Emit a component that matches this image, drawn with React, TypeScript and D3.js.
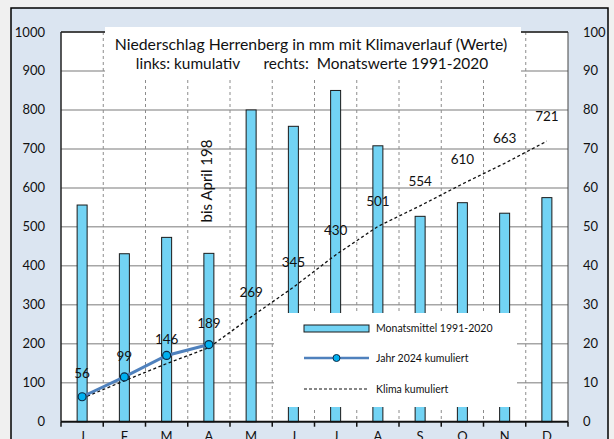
import React from "react";
import * as d3 from "d3";

const months = ["J", "F", "M", "A", "M", "J", "J", "A", "S", "O", "N", "D"];
const monthlyMean = [55.6, 43.1, 47.3, 43.2, 80.0, 75.8, 85.0, 70.8, 52.7, 56.2, 53.5, 57.5];
const climateCum = [60, 105, 149, 190, 269, 345, 428, 501, 554, 610, 663, 720];
const climateLabels = ["56", "99", "146", "189", "269", "345", "430", "501", "554", "610", "663", "721"];
const year2024Cum = [64, 115, 170, 198];
const leftTicks = [0, 100, 200, 300, 400, 500, 600, 700, 800, 900, 1000];
const rightTicks = [0, 10, 20, 30, 40, 50, 60, 70, 80, 90, 100];

const FONT = "Lato, 'Open Sans', sans-serif";

export default function App() {
  const W = 614, H = 439;
  const x0 = 61, x1 = 568, yTop = 32, yBot = 421.7;
  const keys = months.map((_, i) => i);
  const x = d3.scaleBand<number>().domain(keys).range([x0, x1]).paddingInner(0).paddingOuter(0);
  const y = d3.scaleLinear().domain([0, 1000]).range([yBot, yTop]);
  const yR = d3.scaleLinear().domain([0, 100]).range([yBot, yTop]);
  const cx = (i: number) => (x(i) as number) + x.bandwidth() / 2;
  const barW = 10;
  const line = d3.line<number>().x((_, i) => cx(i)).y((d) => y(d));
  const boundaries = d3.range(0, 13).map((k) => x0 + k * x.bandwidth());

  return (
    <svg width={W} height={H} style={{ position: "absolute", left: 0, top: 0, background: "#f0f0f0" }}>
      <rect x={11} y={8} width={597} height={450} fill="#dbe5f1" stroke="#000" strokeWidth={1.5} />
      <rect x={x0} y={yTop} width={x1 - x0} height={yBot - yTop} fill="#fff" />
      {leftTicks.slice(1).map((t) => (
        <line key={"g" + t} x1={x0} x2={x1} y1={y(t)} y2={y(t)} stroke="#a6a6a6" strokeWidth={1.5} />
      ))}
      {boundaries.slice(1, 12).map((b, i) => (
        <line key={"v" + i} x1={b} x2={b} y1={yTop} y2={yBot} stroke="#8c8c8c" strokeWidth={1} strokeDasharray="3,3" />
      ))}
      {monthlyMean.map((v, i) => (
        <rect key={"b" + i} x={cx(i) - barW / 2} y={yR(v)} width={barW} height={yBot - yR(v)} fill="#72d3f4" stroke="#1a1a1a" strokeWidth={1} />
      ))}
      <line x1={x0} x2={x0} y1={yTop} y2={yBot} stroke="#222" strokeWidth={1.5} />
      <line x1={x1} x2={x1} y1={yTop} y2={yBot} stroke="#444" strokeWidth={1} />
      <line x1={x0} x2={x1} y1={yTop} y2={yTop} stroke="#222" strokeWidth={1.5} />
      <line x1={x0} x2={x1} y1={yBot} y2={yBot} stroke="#111" strokeWidth={2} />
      {boundaries.map((b, i) => (
        <line key={"t" + i} x1={b} x2={b} y1={yBot} y2={yBot + 5} stroke="#111" strokeWidth={1.5} />
      ))}
      {/* title box */}
      <rect x={105} y={27} width={416} height={52} fill="#fff" />
      <text x={311} y={50} textAnchor="middle" fontFamily={FONT} fontSize={15.8} fill="#111">
        Niederschlag Herrenberg in mm mit Klimaverlauf (Werte)
      </text>
      <text x={312} y={69} textAnchor="middle" fontFamily={FONT} fontSize={15.4} fill="#111" style={{ whiteSpace: "pre" }}>
        {"links: kumulativ      rechts:  Monatswerte 1991-2020"}
      </text>
      {/* climate cumulative */}
      <path d={line(climateCum) || ""} fill="none" stroke="#111" strokeWidth={1.3} strokeDasharray="3,2.5" />
      {/* 2024 */}
      <path d={line(year2024Cum) || ""} fill="none" stroke="#4f81bd" strokeWidth={3} />
      {year2024Cum.map((v, i) => (
        <circle key={"c" + i} cx={cx(i)} cy={y(v)} r={4} fill="#00b0f0" stroke="#0d2b45" strokeWidth={1.2} />
      ))}
      {climateCum.map((v, i) => (
        <text key={"l" + i} x={cx(i)} y={y(v) - 20} textAnchor="middle" fontFamily={FONT} fontSize={13.5} fill="#111">
          {climateLabels[i]}
        </text>
      ))}
      <text transform={`translate(212,181) rotate(-90)`} textAnchor="middle" fontFamily={FONT} fontSize={15} fill="#111">
        bis April 198
      </text>
      {/* legend */}
      <rect x={274} y={313} width={243} height={94} fill="#fff" />
      <rect x={304} y={325} width={65} height={7} fill="#72d3f4" stroke="#1a1a1a" strokeWidth={1} />
      <text x={376} y={332} fontFamily={FONT} fontSize={10.5} fill="#111">Monatsmittel 1991-2020</text>
      <line x1={304} x2={369} y1={358} y2={358} stroke="#4f81bd" strokeWidth={2.5} />
      <circle cx={336.5} cy={358} r={3.5} fill="#00b0f0" stroke="#0d2b45" strokeWidth={1} />
      <text x={376} y={362} fontFamily={FONT} fontSize={10.5} fill="#111">Jahr 2024 kumuliert</text>
      <line x1={304} x2={369} y1={389} y2={389} stroke="#111" strokeWidth={1.2} strokeDasharray="3,2" />
      <text x={376} y={393} fontFamily={FONT} fontSize={10.5} fill="#111">Klima kumuliert</text>
      {/* axes labels */}
      {leftTicks.map((t) => (
        <text key={"yl" + t} x={45} y={y(t) + 4.5} textAnchor="end" fontFamily={FONT} fontSize={13} fill="#111">{t}</text>
      ))}
      {rightTicks.map((t) => (
        <text key={"yr" + t} x={583} y={yR(t) + 4.5} textAnchor="start" fontFamily={FONT} fontSize={13} fill="#111">{t}</text>
      ))}
      {months.map((m, i) => (
        <text key={"m" + i} x={cx(i)} y={441} textAnchor="middle" fontFamily={FONT} fontSize={13} fill="#111">{m}</text>
      ))}
    </svg>
  );
}
